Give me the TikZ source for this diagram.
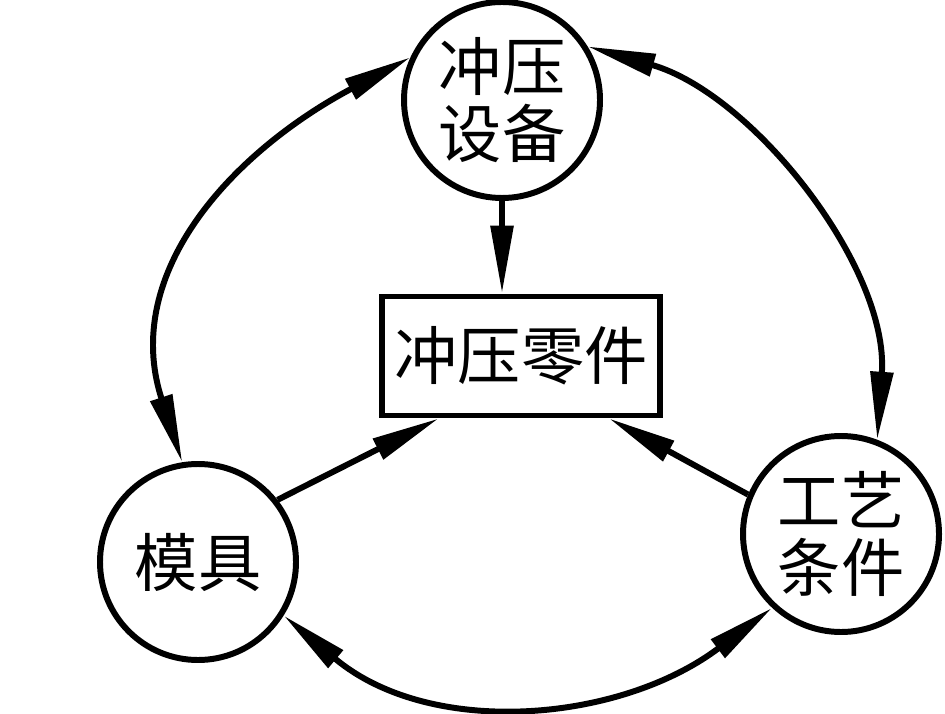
\documentclass[tikz,border=0pt]{standalone}
\usepackage{fontspec}
\newfontfamily\cjk{Noto Sans CJK SC}
\usetikzlibrary{arrows.meta, calc}

\tikzset{
  unit/.style={draw, circle, line width=1.7pt, minimum size=1.96cm, inner sep=0pt,
    font=\cjk\fontsize{18}{19}\selectfont, align=center},
  partbox/.style={draw, rectangle, line width=1.7pt, minimum width=2.78cm,
    minimum height=1.19cm, inner sep=0pt, font=\cjk\fontsize{18}{19}\selectfont},
  inarrow/.style={line width=1.7pt, -{Triangle[length=6.8mm, width=2.2mm]}},
  ringarrow/.style={line width=1.7pt,
    {Triangle[length=6.8mm, width=2.2mm]}-{Triangle[length=6.8mm, width=2.2mm]}}
}

\begin{document}
\begin{tikzpicture}
        \useasboundingbox (0,0) rectangle (9.45,7.13);
        \coordinate (P) at (5.02,6.13);
        \coordinate (M) at (1.98,1.51);
        \coordinate (C) at (8.41,1.79);
        \coordinate (Z) at (5.21,3.57);

        \node[unit] (press) at (P) {冲压\\设备};
        \node[unit] (mold) at (M) {模具};
        \node[unit] (cond) at (C) {工艺\\条件};
        \node[partbox] (part) at (Z) {冲压零件};

        \draw[inarrow] (press.south) -- (press.south |- part.north);
        \draw[inarrow] (mold.38) -- ($(part.south west)!0.21!(part.south east)$);
        \draw[inarrow] (cond.157) -- ($(part.south west)!0.81!(part.south east)$);

        \draw[ringarrow] (mold.99) to[out=108, in=208, looseness=1.1] (press.155);
        \draw[ringarrow] (press.32) to[out=-16, in=86, looseness=0.9] (cond.69);
        \draw[ringarrow] (mold.-32) to[out=-40, in=217] (cond.227);
    \end{tikzpicture}
\end{document}
